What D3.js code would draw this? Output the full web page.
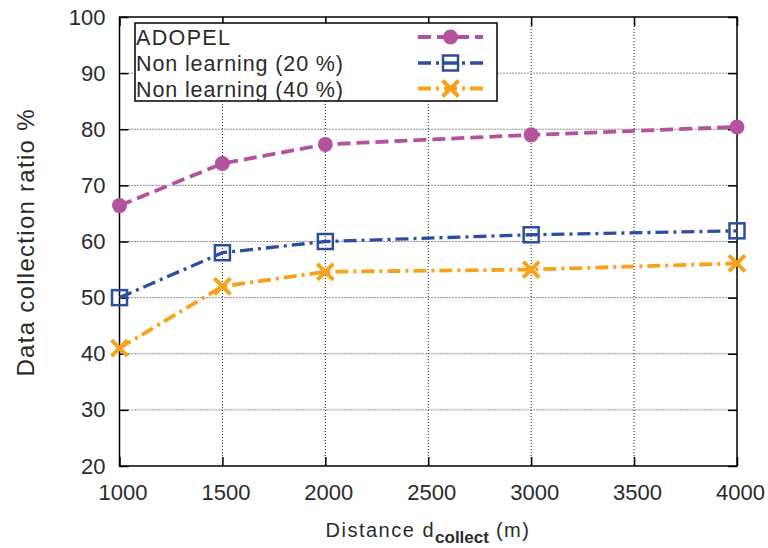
<!DOCTYPE html>
<html>
<head>
<meta charset="utf-8">
<script src="https://cdn.jsdelivr.net/npm/d3@7"></script>
<style>
  body { margin: 0; background: #fff; }
  svg { display: block; font-family: "Liberation Sans", Arial, sans-serif; }
</style>
</head>
<body>
<svg id="chart" width="768" height="548"></svg>
<script>
// data
const distances = [1000, 1500, 2000, 3000, 4000];
const adopel = [66.4, 73.9, 77.3, 79.0, 80.4];
const nonLearning20 = [50.0, 58.0, 60.0, 61.2, 61.9];
const nonLearning40 = [41.0, 52.0, 54.6, 55.0, 56.1];

const xTicks = [1000, 1500, 2000, 2500, 3000, 3500, 4000];
const yTicks = [20, 30, 40, 50, 60, 70, 80, 90, 100];

const seriesNames = ["ADOPEL", "Non learning (20 %)", "Non learning (40 %)"];
const seriesValues = [adopel, nonLearning20, nonLearning40];

// styles per series
const styles = [
  { color: "#b4529e", dash: "13,6", width: 3.8, marker: "circle" },
  { color: "#2c4ea2", dash: "13,5,3,5", width: 3.3, marker: "square" },
  { color: "#f7a21b", dash: "13,5,3,5", width: 3.8, marker: "cross" }
];

const textColor = "#2b2b2b";

const margin = { top: 17, right: 31, bottom: 82, left: 119.5 };
const W = 768, H = 548;
const width = W - margin.left - margin.right;
const height = H - margin.top - margin.bottom;

const svg = d3.select("#chart");
const g = svg.append("g").attr("transform", `translate(${margin.left},${margin.top})`);

const x = d3.scaleLinear().domain([1000, 4000]).range([0, width]);
const y = d3.scaleLinear().domain([20, 100]).range([height, 0]);

// grid (dotted)
g.append("g").selectAll("line")
  .data(yTicks.slice(1, -1))
  .join("line")
  .attr("x1", 0).attr("x2", width)
  .attr("y1", d => y(d)).attr("y2", d => y(d))
  .attr("stroke", "#222").attr("stroke-width", 1).attr("stroke-dasharray", "1,2");

g.append("g").selectAll("line")
  .data(xTicks.slice(1, -1))
  .join("line")
  .attr("y1", 0).attr("y2", height)
  .attr("x1", d => x(d)).attr("x2", d => x(d))
  .attr("stroke", "#222").attr("stroke-width", 1).attr("stroke-dasharray", "1,2");

// axes with inward ticks, mirrored on top and right
const xAxis = g.append("g")
  .attr("transform", `translate(0,${height})`)
  .call(d3.axisBottom(x).tickValues(xTicks).tickSize(-9).tickPadding(18).tickFormat(d3.format("d")));
xAxis.selectAll("text").attr("dx", 3);

g.append("g")
  .call(d3.axisLeft(y).tickValues(yTicks).tickSize(-9).tickPadding(14));

g.append("g")
  .call(d3.axisTop(x).tickValues(xTicks).tickSize(-9).tickFormat(""));

g.append("g")
  .attr("transform", `translate(${width},0)`)
  .call(d3.axisRight(y).tickValues(yTicks).tickSize(-9).tickFormat(""));

g.selectAll(".domain").remove();
g.selectAll(".tick line").attr("stroke", "#000").attr("stroke-width", 1.5);
g.selectAll(".tick text")
  .attr("fill", textColor)
  .style("font-size", "22px")
  .style("font-family", "'Liberation Sans', Arial, sans-serif");

// frame
g.append("rect")
  .attr("width", width).attr("height", height)
  .attr("fill", "none").attr("stroke", "#000").attr("stroke-width", 1.5);

function drawMarker(sel, type, color) {
  if (type === "circle") {
    sel.append("circle").attr("r", 7.5).attr("fill", color);
  } else if (type === "square") {
    sel.append("rect").attr("x", -7.5).attr("y", -7.5).attr("width", 15).attr("height", 15)
      .attr("fill", "none").attr("stroke", color).attr("stroke-width", 2.5);
  } else {
    sel.append("path").attr("d", "M-8,-8L8,8M-8,8L8,-8")
      .attr("stroke", color).attr("stroke-width", 4).attr("fill", "none");
  }
}

const line = d3.line().x(d => x(d[0])).y(d => y(d[1]));

seriesValues.forEach((vals, i) => {
  const st = styles[i];
  const pts = distances.map((d, j) => [d, vals[j]]);
  g.append("path")
    .datum(pts)
    .attr("d", line)
    .attr("fill", "none")
    .attr("stroke", st.color)
    .attr("stroke-width", st.width)
    .attr("stroke-dasharray", st.dash);
  g.append("g").selectAll("g")
    .data(pts)
    .join("g")
    .attr("transform", d => `translate(${x(d[0])},${y(d[1])})`)
    .each(function() { drawMarker(d3.select(this), st.marker, st.color); });
});

// legend
const legend = svg.append("g").attr("transform", "translate(135,23)");
legend.append("rect")
  .attr("width", 362).attr("height", 78)
  .attr("fill", "#fff").attr("stroke", "#000").attr("stroke-width", 1.5);

const rowY = [14, 40, 65.5];
const textLen = [94, 207, 207];
seriesNames.forEach((name, i) => {
  const st = styles[i];
  legend.append("text")
    .attr("x", 1).attr("y", rowY[i] + 8)
    .attr("textLength", textLen[i])
    .attr("lengthAdjust", "spacing")
    .style("font-size", "21.5px")
    .attr("fill", textColor)
    .text(name);
  legend.append("line")
    .attr("x1", 283).attr("x2", 348)
    .attr("y1", rowY[i]).attr("y2", rowY[i])
    .attr("stroke", st.color).attr("stroke-width", st.width)
    .attr("stroke-dasharray", st.dash);
  const m = legend.append("g").attr("transform", `translate(315.5,${rowY[i]})`);
  drawMarker(m, st.marker, st.color);
});

// axis titles
svg.append("text")
  .attr("transform", `translate(34,243) rotate(-90)`)
  .attr("text-anchor", "middle")
  .attr("textLength", 267)
  .attr("lengthAdjust", "spacing")
  .style("font-size", "24px")
  .attr("fill", textColor)
  .text("Data collection ratio %");

const xt = svg.append("text")
  .attr("x", 428).attr("y", 537)
  .attr("text-anchor", "middle")
  .style("font-size", "20px")
  .style("letter-spacing", "1.5px")
  .attr("fill", textColor);
xt.append("tspan").text("Distance d");
xt.append("tspan").attr("dy", 6).style("font-size", "17px").style("font-weight", "bold")
  .style("letter-spacing", "0px").text("collect");
xt.append("tspan").attr("dy", -6).text(" (m)");
</script>
</body>
</html>
